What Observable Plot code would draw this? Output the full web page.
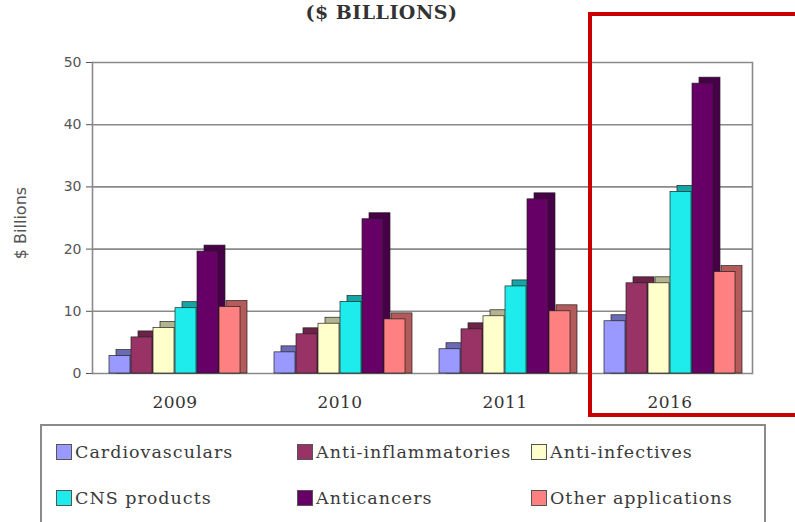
<!DOCTYPE html>
<html>
<head>
<meta charset="utf-8">
<script src="https://cdn.jsdelivr.net/npm/d3@7"></script>
<script src="https://cdn.jsdelivr.net/npm/@observablehq/plot@0.6"></script>
<style>
  html, body { margin: 0; padding: 0; background: #fff; }
  #wrap { position: relative; width: 795px; height: 522px; overflow: hidden; background: #fff; }
  #title { position: absolute; left: 0; top: 1px; width: 763px; text-align: center;
           font-family: "DejaVu Serif", serif; font-weight: bold; font-size: 19px; color: #333; letter-spacing: 0.5px; }
  #chart { position: absolute; left: 0; top: 28px; }
  #ylab { position: absolute; left: 20px; top: 223px; transform: translate(-50%, -50%) rotate(-90deg);
          font-family: "DejaVu Sans", sans-serif; font-size: 16px; color: #555; white-space: nowrap; }
  #legend { position: absolute; left: 40px; top: 424px; width: 726px; height: 120px;
            border: 2px solid #8a8a8a; box-sizing: border-box; }
  .item { position: absolute; display: flex; align-items: center;
          font-family: "DejaVu Serif", serif; font-size: 17.5px; color: #3a3a3a; white-space: nowrap; letter-spacing: 1px; }
  .sw { width: 16px; height: 16px; border: 1.5px solid #555; margin-right: 3px; box-sizing: border-box; }
  #redbox { position: absolute; left: 588px; top: 12px; width: 230px; height: 405px;
            border: 4px solid #c80000; box-sizing: border-box; }
  svg [aria-label^="fx-axis"] text { font-family: "DejaVu Serif", serif; font-size: 17px; fill: #333; letter-spacing: 0.5px; }
  svg [aria-label^="y-axis"] text { font-family: "DejaVu Sans", sans-serif; font-size: 14px; fill: #555; }
</style>
</head>
<body>
<div id="wrap">
  <div id="title">($ BILLIONS)</div>
  <div id="chart"></div>
  <div id="ylab">$ Billions</div>
  <div id="legend"></div>
  <div id="redbox"></div>
</div>
<script>
// ---- data ----
const years = ["2009", "2010", "2011", "2016"];
const series = ["Cardiovasculars", "Anti-inflammatories", "Anti-infectives", "CNS products", "Anticancers", "Other applications"];
const cardiovasculars   = [2.8, 3.4, 3.9, 8.4];
const antiInflammatories = [5.8, 6.3, 7.1, 14.5];
const antiInfectives    = [7.3, 8.0, 9.2, 14.5];
const cnsProducts       = [10.5, 11.5, 14.0, 29.2];
const anticancers       = [19.6, 24.8, 28.0, 46.6];
const otherApplications = [10.7, 8.7, 10.0, 16.3];
const yTicks = [0, 10, 20, 30, 40, 50];
const colors = ["#9999FF", "#993366", "#FFFFCC", "#1EEBEB", "#660066", "#FF8080"];

const seriesValues = [cardiovasculars, antiInflammatories, antiInfectives, cnsProducts, anticancers, otherApplications];
const data = [];
years.forEach((yr, j) => series.forEach((s, i) => data.push({year: yr, series: s, value: seriesValues[i][j]})));
const darkColors = colors.map(c => d3.color(c).darker(1.0).formatHex());

const barOpts = {fx: "year", x: "series", y: "value", stroke: "#222", strokeWidth: 0.7};

const chart = Plot.plot({
  width: 795,
  height: 392,
  marginLeft: 92,
  marginRight: 43,
  marginTop: 34,
  marginBottom: 47,
  style: {fontFamily: "DejaVu Sans", fontSize: "14px", color: "#555", background: "transparent"},
  fx: {domain: years, padding: 0, axis: "bottom", tickSize: 0, tickPadding: 22, label: null},
  x: {domain: series, paddingInner: 0.04, paddingOuter: 0.75, axis: null},
  y: {domain: [0, 50], ticks: yTicks, tickSize: 6, tickPadding: 5, label: null},
  color: {domain: series, range: colors},
  marks: [
    Plot.ruleY(yTicks, {stroke: "#8a8a8a", strokeWidth: 1.6}),
    Plot.frame({anchor: "left", facetAnchor: "left", stroke: "#8a8a8a", strokeWidth: 1.6}),
    Plot.frame({anchor: "right", facetAnchor: "right", stroke: "#8a8a8a", strokeWidth: 1.6}),
    ...series.map((s, i) => Plot.barY(data.filter(d => d.series === s),
      {...barOpts, fill: darkColors[i], dx: 7, dy: -6, insetBottom: -6})),
    Plot.barY(data, {...barOpts, fill: "series"})
  ]
});
document.getElementById("chart").appendChild(chart);

// legend
const legend = document.getElementById("legend");
const colX = [14, 255, 489];
const rowY = [26, 72];
series.forEach((s, i) => {
  const el = document.createElement("div");
  el.className = "item";
  el.style.left = colX[i % 3] + "px";
  el.style.top = (rowY[Math.floor(i / 3)] - 12) + "px";
  el.style.height = "24px";
  const sw = document.createElement("span");
  sw.className = "sw";
  sw.style.background = colors[i];
  el.appendChild(sw);
  el.appendChild(document.createTextNode(s));
  legend.appendChild(el);
});
</script>
</body>
</html>
